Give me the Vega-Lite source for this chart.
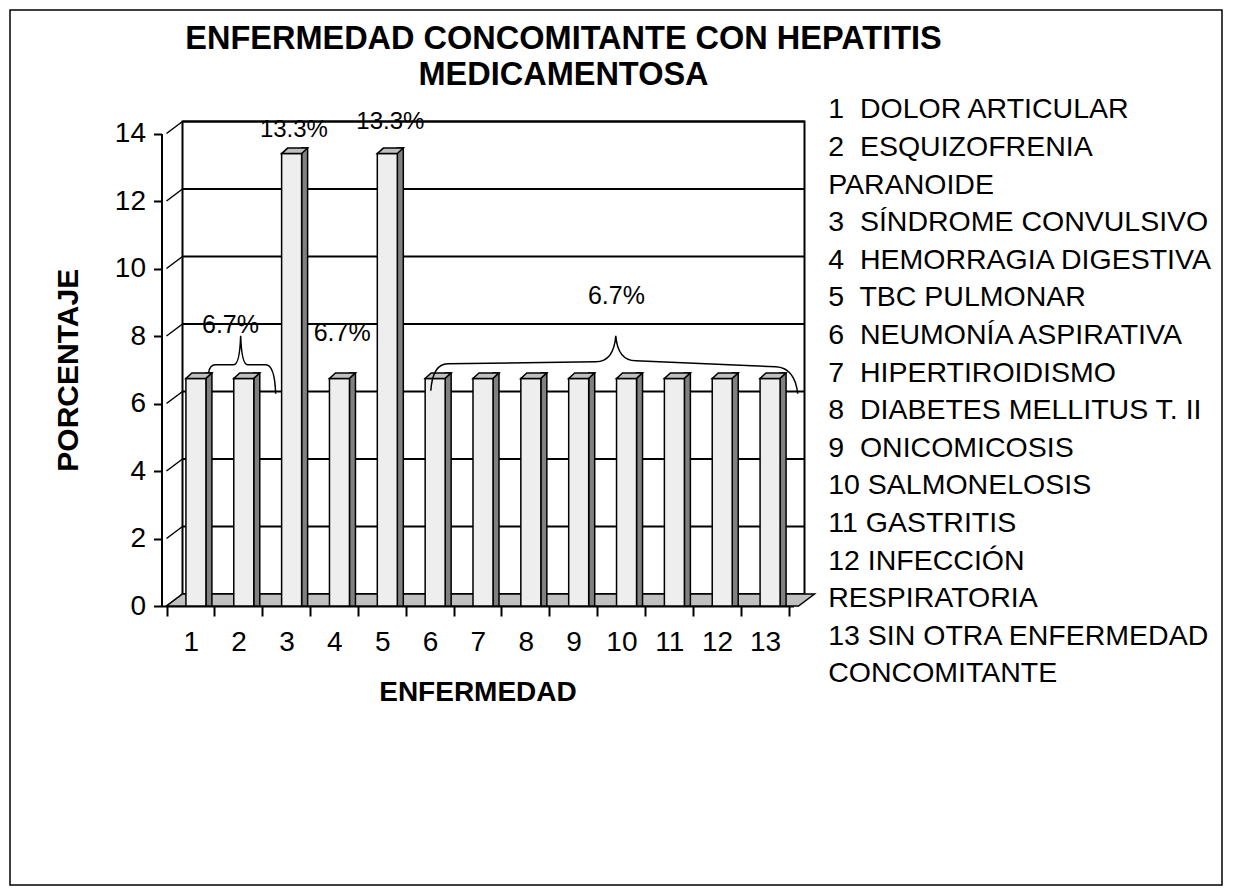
{
  "$schema": "https://vega.github.io/schema/vega-lite/v6.json",
  "width": 1212,
  "height": 875,
  "padding": {"left": 10, "top": 10, "right": 2, "bottom": 10},
  "autosize": {"type": "none"},
  "background": "white",
  "config": {
    "font": "Liberation Sans",
    "view": {"stroke": "black", "strokeWidth": 1.5, "fill": "white"},
    "axis": {"domainColor": "black", "domainWidth": 2, "tickColor": "black", "tickWidth": 2, "labelColor": "black", "titleColor": "black", "labelFont": "Liberation Sans", "titleFont": "Liberation Sans", "grid": false}
  },
  "title": {
    "text": ["ENFERMEDAD CONCOMITANTE CON HEPATITIS", "MEDICAMENTOSA"],
    "anchor": "middle",
    "frame": "group",
    "orient": "top",
    "baseline": "alphabetic",
    "offset": -107,
    "dx": -52.5,
    "fontSize": 32.5,
    "fontWeight": "bold",
    "font": "Liberation Sans",
    "lineHeight": 36,
    "color": "black"
  },
  "datasets": {
    "diseases": [
      {"id": 1, "name": "DOLOR ARTICULAR", "pct": 6.67},
      {"id": 2, "name": "ESQUIZOFRENIA PARANOIDE", "pct": 6.67},
      {"id": 3, "name": "SÍNDROME CONVULSIVO", "pct": 13.33},
      {"id": 4, "name": "HEMORRAGIA DIGESTIVA", "pct": 6.67},
      {"id": 5, "name": "TBC PULMONAR", "pct": 13.33},
      {"id": 6, "name": "NEUMONÍA ASPIRATIVA", "pct": 6.67},
      {"id": 7, "name": "HIPERTIROIDISMO", "pct": 6.67},
      {"id": 8, "name": "DIABETES MELLITUS T. II", "pct": 6.67},
      {"id": 9, "name": "ONICOMICOSIS", "pct": 6.67},
      {"id": 10, "name": "SALMONELOSIS", "pct": 6.67},
      {"id": 11, "name": "GASTRITIS", "pct": 6.67},
      {"id": 12, "name": "INFECCIÓN RESPIRATORIA", "pct": 6.67},
      {"id": 13, "name": "SIN OTRA ENFERMEDAD CONCOMITANTE", "pct": 6.67}
    ],
    "gridlines": [
      {"value": 0}, {"value": 2}, {"value": 4}, {"value": 6}, {"value": 8}, {"value": 10}, {"value": 12}, {"value": 14}
    ],
    "one": [{}]
  },
  "layer": [
    {
      "data": {"name": "one"},
      "mark": {"type": "rect", "fill": "white", "stroke": "black", "strokeWidth": 2, "xOffset": 16, "x2Offset": 16, "yOffset": -12, "y2Offset": -12},
      "encoding": {
        "x": {
          "datum": 0.5, "type": "quantitative",
          "scale": {"domain": [0.5, 13.5], "range": [151.5, 783.5], "nice": false, "zero": false},
          "title": "ENFERMEDAD",
          "axis": {
            "title": "ENFERMEDAD",
            "values": [0.5, 1.5, 2.5, 3.5, 4.5, 5.5, 6.5, 7.5, 8.5, 9.5, 10.5, 11.5, 12.5, 13.5],
            "labelExpr": "datum.value < 13 ? format(datum.value + 0.5, 'd') : ''",
            "labelOffset": 24.3, "labelFontSize": 28, "labelPadding": 12, "tickSize": 10,
            "offset": -279, "titleFontSize": 28, "titleFontWeight": "bold", "titlePadding": 22,
            "labelFlush": false, "labelOverlap": false, "labelBound": false
          }
        },
        "x2": {"datum": 13.5},
        "y": {
          "datum": 0, "type": "quantitative",
          "scale": {"domain": [0, 14], "range": [596, 123.5], "nice": false, "zero": false},
          "title": "PORCENTAJE",
          "axis": {
            "title": "PORCENTAJE",
            "values": [0, 2, 4, 6, 8, 10, 12, 14],
            "format": "d",
            "labelFontSize": 28, "labelPadding": 8, "tickSize": 8,
            "offset": -151.5, "titleFontSize": 30, "titleFontWeight": "bold", "titlePadding": 31
          }
        },
        "y2": {"datum": 14}
      }
    },
    {
      "data": {"name": "gridlines"},
      "mark": {"type": "rule", "stroke": "black", "strokeWidth": 2, "xOffset": 16, "x2Offset": 16, "yOffset": -12},
      "encoding": {
        "x": {"datum": 0.5, "type": "quantitative"},
        "x2": {"datum": 13.5},
        "y": {"field": "value", "type": "quantitative", "title": "PORCENTAJE"}
      }
    },
    {
      "data": {"name": "gridlines"},
      "mark": {"type": "point", "shape": "M0,0L16,-12", "size": 4, "filled": false, "stroke": "black", "strokeWidth": 1.5, "opacity": 1},
      "encoding": {
        "x": {"datum": 0.5, "type": "quantitative"},
        "y": {"field": "value", "type": "quantitative", "title": "PORCENTAJE"}
      }
    },
    {
      "data": {"name": "one"},
      "mark": {"type": "point", "shape": "M0,0L632,0L648,-12L16,-12Z", "size": 4, "filled": true, "fill": "#c0c0c0", "stroke": "black", "strokeWidth": 1.5, "opacity": 1},
      "encoding": {
        "x": {"datum": 0.5, "type": "quantitative"},
        "y": {"datum": 0, "type": "quantitative"}
      }
    },
    {
      "data": {"name": "diseases"},
      "mark": {"type": "bar", "orient": "vertical", "width": 6, "xOffset": 18.5, "yOffset": -8, "y2Offset": -5, "fill": "#808080", "stroke": "black", "strokeWidth": 1.5},
      "encoding": {
        "x": {"field": "id", "type": "quantitative", "title": "ENFERMEDAD"},
        "y": {"field": "pct", "type": "quantitative", "stack": null, "title": "PORCENTAJE"}
      }
    },
    {
      "data": {"name": "diseases"},
      "mark": {"type": "bar", "orient": "vertical", "width": 20, "xOffset": 5.5, "yOffset": -2.5, "y2Offset": -2.5, "fill": "#eeeeee", "stroke": "black", "strokeWidth": 1.5},
      "encoding": {
        "x": {"field": "id", "type": "quantitative", "title": "ENFERMEDAD"},
        "y": {"field": "pct", "type": "quantitative", "stack": null, "title": "PORCENTAJE"}
      }
    },
    {
      "data": {"name": "diseases"},
      "mark": {"type": "point", "shape": "M-4.5,-2.5L15.5,-2.5L21.5,-8L1.5,-8Z", "size": 4, "filled": true, "fill": "#c0c0c0", "stroke": "black", "strokeWidth": 1.5, "opacity": 1},
      "encoding": {
        "x": {"field": "id", "type": "quantitative", "title": "ENFERMEDAD"},
        "y": {"field": "pct", "type": "quantitative", "title": "PORCENTAJE"}
      }
    },
    {
      "data": {"name": "one"},
      "mark": {"type": "text", "text": "13.3%", "fontSize": 24, "align": "center", "baseline": "alphabetic", "color": "black"},
      "encoding": {"x": {"datum": 3.163, "type": "quantitative"}, "y": {"datum": 13.91, "type": "quantitative"}}
    },
    {
      "data": {"name": "one"},
      "mark": {"type": "text", "text": "13.3%", "fontSize": 24, "align": "center", "baseline": "alphabetic", "color": "black"},
      "encoding": {"x": {"datum": 5.179, "type": "quantitative"}, "y": {"datum": 14.12, "type": "quantitative"}}
    },
    {
      "data": {"name": "one"},
      "mark": {"type": "text", "text": "6.7%", "fontSize": 25, "align": "center", "baseline": "alphabetic", "color": "black"},
      "encoding": {"x": {"datum": 1.837, "type": "quantitative"}, "y": {"datum": 8.095, "type": "quantitative"}}
    },
    {
      "data": {"name": "one"},
      "mark": {"type": "text", "text": "6.7%", "fontSize": 25, "align": "center", "baseline": "alphabetic", "color": "black"},
      "encoding": {"x": {"datum": 4.171, "type": "quantitative"}, "y": {"datum": 7.838, "type": "quantitative"}}
    },
    {
      "data": {"name": "one"},
      "mark": {"type": "text", "text": "6.7%", "fontSize": 25, "align": "center", "baseline": "alphabetic", "color": "black"},
      "encoding": {"x": {"datum": 9.904, "type": "quantitative"}, "y": {"datum": 8.943, "type": "quantitative"}}
    },
    {
      "data": {"name": "one"},
      "mark": {"type": "point", "shape": "M-32,3Q-31,-5 -25,-5L-7,-5Q-1,-5 0,-34Q1,-5 7,-5L25,-5Q34,-5 35,24", "size": 4, "filled": false, "stroke": "black", "strokeWidth": 1.5, "opacity": 1},
      "encoding": {"x": {"datum": 2.05, "type": "quantitative"}, "y": {"datum": 7, "type": "quantitative"}}
    },
    {
      "data": {"name": "one"},
      "mark": {"type": "point", "shape": "M-185,21Q-183,-6 -168,-6L-20,-8Q-2,-8 0,-34Q2,-9 20,-9L160,-3Q179,-2 182,24", "size": 4, "filled": false, "stroke": "black", "strokeWidth": 1.5, "opacity": 1},
      "encoding": {"x": {"datum": 9.89, "type": "quantitative"}, "y": {"datum": 7, "type": "quantitative"}}
    },
    {
      "data": {"name": "one"},
      "mark": {
        "type": "text",
        "text": [
          "1\u00a0 DOLOR ARTICULAR",
          "2\u00a0 ESQUIZOFRENIA",
          "PARANOIDE",
          "3\u00a0 SÍNDROME CONVULSIVO",
          "4\u00a0 HEMORRAGIA DIGESTIVA",
          "5\u00a0 TBC PULMONAR",
          "6\u00a0 NEUMONÍA ASPIRATIVA",
          "7\u00a0 HIPERTIROIDISMO",
          "8\u00a0 DIABETES MELLITUS T. II",
          "9\u00a0 ONICOMICOSIS",
          "10 SALMONELOSIS",
          "11 GASTRITIS",
          "12 INFECCIÓN",
          "RESPIRATORIA",
          "13 SIN OTRA ENFERMEDAD",
          "CONCOMITANTE"
        ],
        "fontSize": 28.5,
        "lineHeight": 37.6,
        "align": "left",
        "baseline": "alphabetic",
        "color": "black"
      },
      "encoding": {"x": {"datum": 14.33, "type": "quantitative"}, "y": {"datum": 14.446, "type": "quantitative"}}
    }
  ]
}
